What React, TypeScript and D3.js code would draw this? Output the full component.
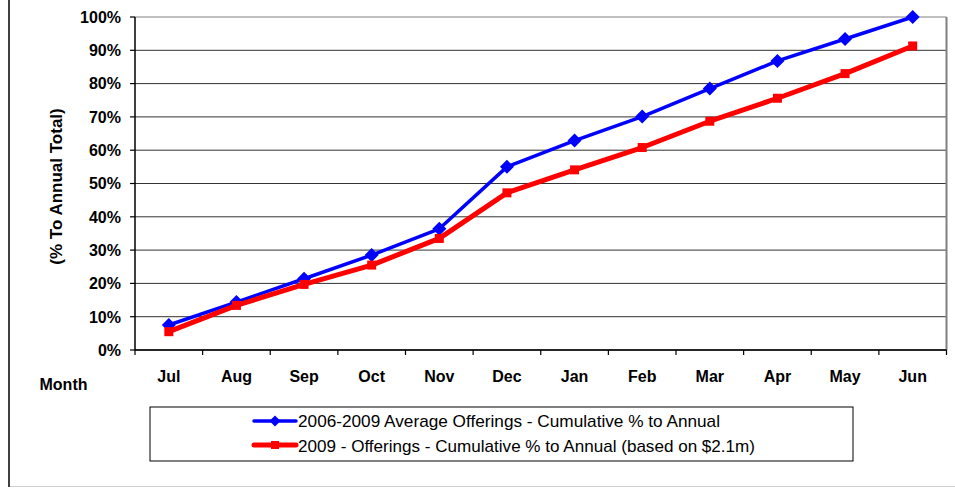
import React from "react";
import * as d3 from "d3";

const months = ["Jul", "Aug", "Sep", "Oct", "Nov", "Dec", "Jan", "Feb", "Mar", "Apr", "May", "Jun"];
const avgSeries = [7.5, 14.4, 21.4, 28.5, 36.4, 55.0, 62.9, 70.1, 78.5, 86.8, 93.4, 100];
const series2009 = [5.5, 13.4, 19.7, 25.5, 33.5, 47.2, 54.1, 60.8, 68.7, 75.6, 83.0, 91.3];
const yTicks = [0, 10, 20, 30, 40, 50, 60, 70, 80, 90, 100];
const legendLabels = [
  "2006-2009 Average Offerings - Cumulative % to Annual",
  "2009 - Offerings - Cumulative % to Annual (based on $2.1m)",
];

const W = 955, H = 488;
const L = 135, R = 946.5, T = 17, B = 350;

export default function App() {
  const x = d3.scaleBand<string>().domain(months).range([L, R]).padding(0);
  const y = d3.scaleLinear().domain([0, 100]).range([B, T]);
  const cx = (m: string) => (x(m) as number) + x.bandwidth() / 2;
  const line = d3.line<number>().x((_, i) => cx(months[i])).y((d) => y(d));
  const font = "'Liberation Sans', Arial, sans-serif";
  const diamond = (px: number, py: number, r: number) =>
    `M${px},${py - r}L${px + r},${py}L${px},${py + r}L${px - r},${py}Z`;

  return (
    <svg width={W} height={H} style={{ position: "absolute", left: 0, top: 0, background: "#fff" }}>
      {/* outer frame */}
      <rect x={9} y={-2} width={W + 5} height={488.5} fill="#fff" stroke="#d0d0d0" strokeWidth={1} />
      <line x1={9} y1={-2} x2={9} y2={487} stroke="#404040" strokeWidth={2} />
      {/* gridlines */}
      {yTicks.map((t) => (
        <line key={t} x1={L} x2={R} y1={y(t)} y2={y(t)} stroke={t === 100 ? "#808080" : "#333"} strokeWidth={1} />
      ))}
      {/* right plot border */}
      <line x1={R} x2={R} y1={T} y2={B} stroke="#808080" strokeWidth={2} />
      {/* axes */}
      <line x1={L} x2={L} y1={T} y2={B} stroke="#000" strokeWidth={1.5} />
      <line x1={L} x2={R} y1={B} y2={B} stroke="#000" strokeWidth={1.5} />
      {yTicks.map((t) => (
        <line key={"yt" + t} x1={L - 5} x2={L} y1={y(t)} y2={y(t)} stroke="#000" strokeWidth={1.2} />
      ))}
      {months.map((m) => (
        <line key={"xt" + m} x1={(x(m) as number)} x2={(x(m) as number)} y1={B} y2={B + 5} stroke="#000" strokeWidth={1.2} />
      ))}
      <line x1={R} x2={R} y1={B} y2={B + 5} stroke="#000" strokeWidth={1.2} />
      {/* y tick labels */}
      {yTicks.map((t) => (
        <text key={"yl" + t} x={121} y={y(t) + 5.8} textAnchor="end" fontFamily={font} fontWeight="bold" fontSize={16} fill="#000">
          {t + "%"}
        </text>
      ))}
      {/* x tick labels */}
      {months.map((m) => (
        <text key={"xl" + m} x={cx(m)} y={382} textAnchor="middle" fontFamily={font} fontWeight="bold" fontSize={16} fill="#000">
          {m}
        </text>
      ))}
      <text x={39.5} y={390} fontFamily={font} fontWeight="bold" fontSize={16} fill="#000">Month</text>
      <text transform={`translate(62,186.5) rotate(-90)`} textAnchor="middle" fontFamily={font} fontWeight="bold" fontSize={17} fill="#000">
        (% To Annual Total)
      </text>
      {/* series */}
      <path d={line(avgSeries) as string} fill="none" stroke="#0000ff" strokeWidth={3.5} strokeLinejoin="round" />
      {avgSeries.map((v, i) => (
        <path key={"d" + i} d={diamond(cx(months[i]), y(v), 7)} fill="#0000ff" />
      ))}
      <path d={line(series2009) as string} fill="none" stroke="#ff0000" strokeWidth={5} strokeLinejoin="round" />
      {series2009.map((v, i) => (
        <rect key={"s" + i} x={cx(months[i]) - 4.5} y={y(v) - 4.5} width={9} height={9} fill="#ff0000" />
      ))}
      {/* legend */}
      <rect x={150} y={407} width={703} height={54} fill="#fff" stroke="#000" strokeWidth={1} />
      <line x1={254} x2={296} y1={421} y2={421} stroke="#0000ff" strokeWidth={3.5} strokeLinecap="round" />
      <path d={diamond(275, 421, 5.5)} fill="#0000ff" />
      <text x={298} y={427} fontFamily={font} fontSize={17} fill="#000" textLength={422} lengthAdjust="spacingAndGlyphs">{legendLabels[0]}</text>
      <line x1={254} x2={296} y1={445} y2={445} stroke="#ff0000" strokeWidth={5} strokeLinecap="round" />
      <rect x={271} y={441} width={8} height={8} fill="#ff0000" />
      <text x={298} y={451.5} fontFamily={font} fontSize={17} fill="#000" textLength={457} lengthAdjust="spacingAndGlyphs">{legendLabels[1]}</text>
    </svg>
  );
}
